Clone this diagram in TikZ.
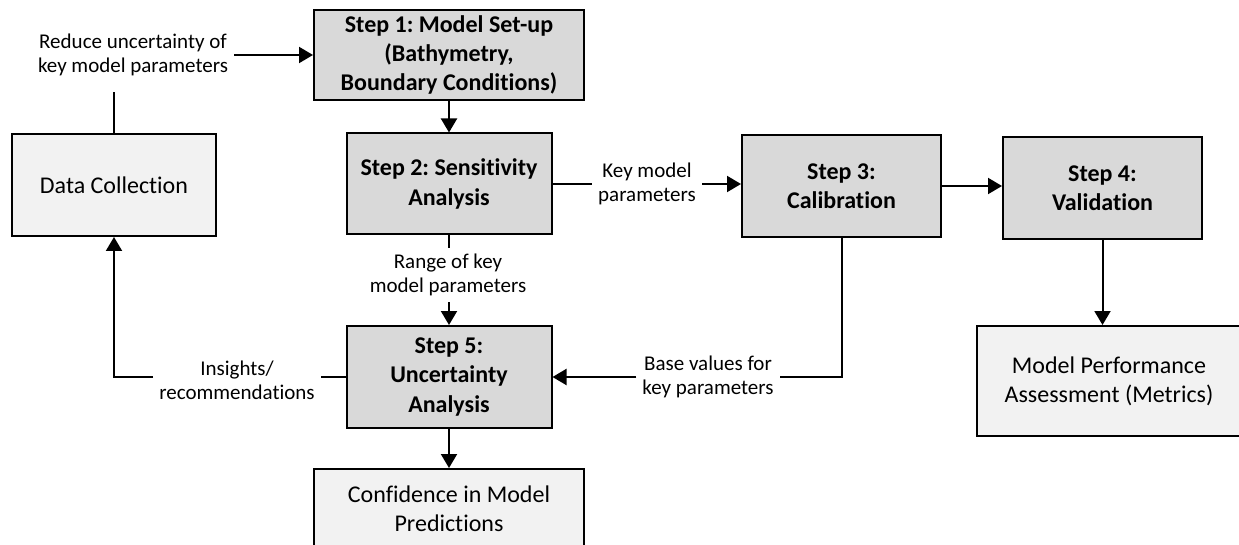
\documentclass[tikz,border=0pt]{standalone}
\usepackage{fontspec}
\setmainfont{Carlito}[Ligatures={NoCommon}]
\usetikzlibrary{arrows.meta}
\definecolor{boxgray}{HTML}{D9D9D9}
\definecolor{boxlight}{HTML}{F2F2F2}
\tikzset{
  stepbox/.style={draw,line width=2pt,fill=boxgray,align=center,inner sep=0pt,
    font=\fontsize{24}{29.3}\selectfont\bfseries},
  outbox/.style={draw,line width=2pt,fill=boxlight,align=center,inner sep=0pt,
    font=\fontsize{24}{29.3}\selectfont},
  lbl/.style={align=center,inner sep=6pt,font=\fontsize{21}{24}\selectfont},
  link/.style={line width=2pt},
  flow/.style={link,-{Triangle[length=14pt,width=16pt]}}
}
\frenchspacing
\begin{document}
\begin{tikzpicture}[x=1pt,y=-1pt]
    \useasboundingbox (0,0) rectangle (1239,545);
    \node[outbox,minimum width=204pt,minimum height=102pt] (data) at (114,185) {Data Collection};
    \node[stepbox,minimum width=270pt,minimum height=90pt] (step1) at (449,55)
      {Step 1: Model Set-up\\(Bathymetry,\\Boundary Conditions)};
    \node[stepbox,minimum width=205pt,minimum height=101pt] (step2) at (449,184)
      {Step 2: Sensitivity\\Analysis};
    \node[stepbox,minimum width=199pt,minimum height=102pt] (step3) at (841.5,186)
      {Step 3:\\Calibration};
    \node[stepbox,minimum width=199pt,minimum height=102pt] (step4) at (1102.5,188)
      {Step 4:\\Validation};
    \node[stepbox,minimum width=205pt,minimum height=102pt] (step5) at (449,377)
      {Step 5:\\Uncertainty\\Analysis};
    \node[outbox,minimum width=270pt,minimum height=80pt] (conf) at (449,509)
      {Confidence in Model\\Predictions};
    \node[outbox,minimum width=264pt,minimum height=110pt] (metrics) at (1109,381)
      {Model Performance\\Assessment (Metrics)};
    \node[lbl] (lreduce) at (133,55) {Reduce uncertainty of\\key model parameters};
    \node[lbl] (lkey) at (647,184) {Key model\\parameters};
    \node[lbl] (lrange) at (448,275) {Range of key\\model parameters};
    \node[lbl] (lbase) at (708,377) {Base values for\\key parameters};
    \node[lbl] (linsights) at (237,380) {Insights/\\recommendations};
    \draw[link] (data.north) -- ([yshift=-10pt]lreduce.south -| data.north);
    \draw[flow] (lreduce.east) -- (lreduce.east -| step1.west);
    \draw[flow] (step1.south) -- (step2.north);
    \draw[link] (step2.east) -- (lkey.west);
    \draw[flow] (lkey.east) -- (lkey.east -| step3.west);
    \draw[flow] (step3.east) -- (step3.east -| step4.west);
    \draw[flow] (step4.south) -- (step4.south |- metrics.north);
    \draw[link] (step2.south) -- (step2.south |- lrange.north);
    \draw[flow] (step5.north |- lrange.south) -- (step5.north);
    \draw[link] (step3.south) -- (step3.south |- lbase.east) -- (lbase.east);
    \draw[flow] (lbase.west) -- (step5.east);
    \draw[link] (step5.west) -- (step5.west -| linsights.east);
    \draw[flow] (step5.west -| linsights.west) -- (step5.west -| data.south) -- (data.south);
    \draw[flow] (step5.south) -- (conf.north);
\end{tikzpicture}
\end{document}
